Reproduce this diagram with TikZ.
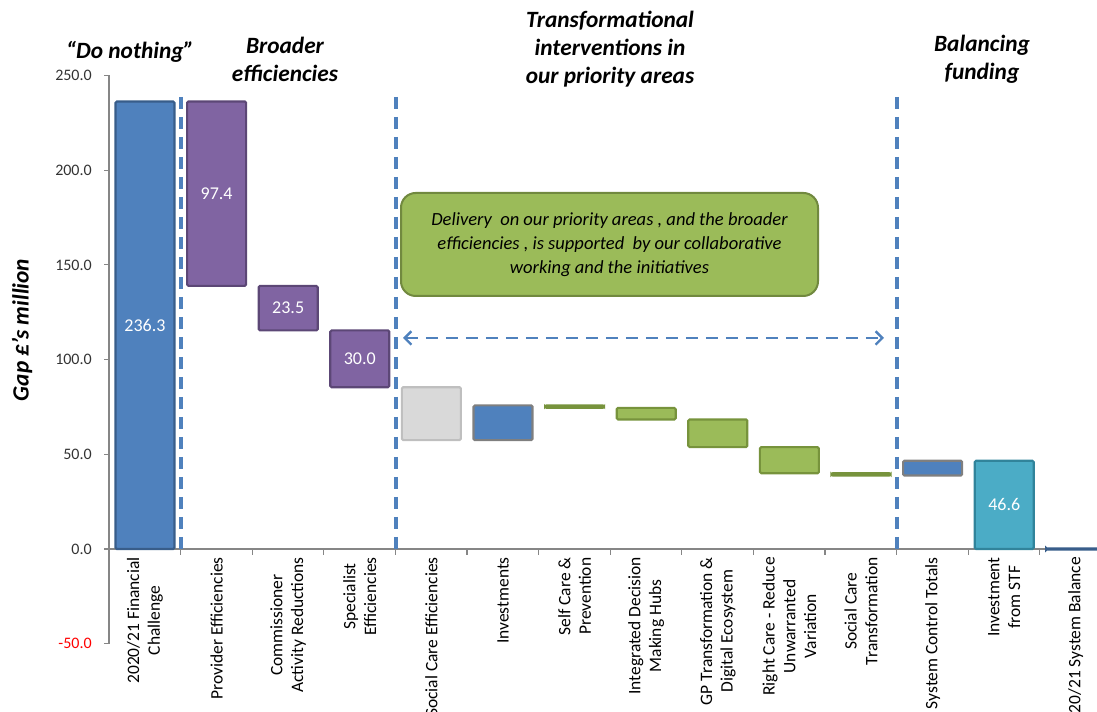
\documentclass[tikz,border=0pt]{standalone}
\usepackage{fontspec}
\setmainfont{Carlito}
\usetikzlibrary{arrows.meta}

\definecolor{barblue}{HTML}{4F81BD}
\definecolor{barblueline}{HTML}{385D8A}
\definecolor{barpurple}{HTML}{8064A2}
\definecolor{barpurpleline}{HTML}{5C4776}
\definecolor{bargrey}{HTML}{D9D9D9}
\definecolor{bargreyline}{HTML}{BFBFBF}
\definecolor{invline}{HTML}{7F7F7F}
\definecolor{bargreen}{HTML}{9BBB59}
\definecolor{bargreenline}{HTML}{77933C}
\definecolor{barteal}{HTML}{4BACC6}
\definecolor{bartealline}{HTML}{31849B}
\definecolor{axisgrey}{HTML}{868686}
\definecolor{boxline}{HTML}{71893F}

\begin{document}
\begin{tikzpicture}[x=0.75pt,y=0.75pt,
    bar/.style={line width=1.6pt,rounded corners=1pt},
    bluebar/.style={bar,fill=barblue,draw=barblueline},
    purplebar/.style={bar,fill=barpurple,draw=barpurpleline},
    greybar/.style={bar,fill=bargrey,draw=bargreyline},
    invbar/.style={bar,fill=barblue,draw=invline},
    greenbar/.style={bar,fill=bargreen,draw=bargreenline},
    thinbar/.style={bar,fill=bargreenline,draw=bargreenline},
    tealbar/.style={bar,fill=barteal,draw=bartealline},
    axisline/.style={draw=axisgrey,line width=0.8pt},
    divider/.style={draw=barblue,line width=2.4pt,dash pattern=on 9pt off 6pt},
    spanarrow/.style={draw=barblue,line width=1.8pt,dash pattern=on 9pt off 6pt,
        {Straight Barb[length=5pt,width=10pt]}-{Straight Barb[length=5pt,width=10pt]}},
    ticklabel/.style={anchor=east,inner sep=0pt,text=black!80,font=\fontsize{12}{14}\selectfont},
    vallabel/.style={text=white,font=\fontsize{13.5}{15}\selectfont},
    catlabel/.style={rotate=90,anchor=east,align=center,inner sep=0pt,font=\fontsize{13.1}{15.5}\selectfont},
    header/.style={align=center,font=\fontsize{17.5}{21}\selectfont\bfseries\itshape}]

    \useasboundingbox (0,0) rectangle (1097,712);

    % axes
    \draw[axisline] (109,163) -- (1097,163);
    \foreach \k in {0,...,13}
        \draw[axisline] ({109+71.6*\k},163) -- ++(0,-6);

    \begin{scope}[shift={(0,163)},yscale=1.894]
        \draw[axisline] (109,250) -- (109,-50);
        \foreach \v in {-50,0,50,...,250}
            \draw[axisline] (104,\v) -- (109,\v);
        \foreach \v in {0,50,...,250}
            \node[ticklabel] (t\v) at (92,\v) {\v.0};
        \node[ticklabel,text=red] (tm50) at (92,-50) {-50.0};

        % bars
        \draw[bluebar]   (115.5,0)    rectangle (174.5,236.3);
        \draw[purplebar] (187.1,138.9) rectangle (246.1,236.3);
        \draw[purplebar] (258.7,115.4) rectangle (317.7,138.9);
        \draw[purplebar] (330.3,85.4)  rectangle (389.3,115.4);
        \draw[greybar]   (401.9,57.5)  rectangle (460.9,85.4);
        \draw[invbar]    (473.5,57.5)  rectangle (532.5,75.8);
        \draw[thinbar]   (545.1,74.5)  rectangle (604.1,75.8);
        \draw[greenbar]  (616.7,68.4)  rectangle (675.7,74.5);
        \draw[greenbar]  (688.3,53.8)  rectangle (747.3,68.4);
        \draw[greenbar]  (759.9,40.0)  rectangle (818.9,53.8);
        \draw[thinbar]   (831.5,38.8)  rectangle (890.5,40.0);
        \draw[invbar]    (903.1,38.8)  rectangle (962.1,46.6);
        \draw[tealbar]   (974.7,0)     rectangle (1033.7,46.6);
        \draw[bar,fill=barblueline,draw=barblueline] (1046.3,-0.3) rectangle (1105.3,0.3);

        \node[vallabel] (v1) at (145,118.15) {236.3};
        \node[vallabel] (v2) at (216.6,187.6) {97.4};
        \node[vallabel] (v3) at (288.2,127.15) {23.5};
        \node[vallabel] (v4) at (359.8,100.4) {30.0};
        \node[vallabel] (v13) at (1004.2,23.3) {46.6};
    \end{scope}

    % section dividers
    \draw[divider] (181,615) -- (181,163);
    \draw[divider] (396,615) -- (396,163);
    \draw[divider] (897,615) -- (897,163);

    \coordinate (arrL) at (403,374);
    \coordinate (arrR) at (884,374);
    \draw[spanarrow] (arrL) -- (arrR);

    \node[draw=boxline,line width=1.5pt,fill=bargreen,rounded corners=11pt,
        minimum width=312.75pt,minimum height=77.25pt,align=center,
        font=\fontsize{13.9}{17.8}\selectfont\itshape] (note) at (609.5,467.5)
        {Delivery\ \ on our priority areas , and the broader\\
         efficiencies , is supported\ \ by our collaborative\\
         working and the initiatives};

    % headings
    \node[header] (h1) at (130,660) {“Do nothing”};
    \node[header] (h2) at (285,653) {Broader\\efficiencies};
    \node[header] (h3) at (610,663) {Transformational\\interventions in\\our priority areas};
    \node[header] (h4) at (982,653) {Balancing\\funding};
    \node[header,rotate=90] (ytitle) at (22,382) {Gap £’s million};

    % category labels
    \node[catlabel] (c0) at (145,155) {2020/21 Financial\\Challenge};
    \node[catlabel] (c1) at (216.6,155) {Provider Efficiencies};
    \node[catlabel] (c2) at (288.2,155) {Commissioner\\Activity Reductions};
    \node[catlabel] (c3) at (359.8,155) {Specialist\\Efficiencies};
    \node[catlabel] (c4) at (431.4,155) {Social Care Efficiencies};
    \node[catlabel] (c5) at (503,155) {Investments};
    \node[catlabel] (c6) at (574.6,155) {Self Care \&\\Prevention};
    \node[catlabel] (c7) at (646.2,155) {Integrated Decision\\Making Hubs};
    \node[catlabel] (c8) at (717.8,155) {GP Transformation \&\\Digital Ecosystem};
    \node[catlabel] (c9) at (789.4,155) {Right Care - Reduce\\Unwarranted\\Variation};
    \node[catlabel] (c10) at (861,155) {Social Care\\Transformation};
    \node[catlabel] (c11) at (932.6,155) {System Control Totals};
    \node[catlabel] (c12) at (1004.2,155) {Investment\\from STF};
    \node[catlabel] (c13) at (1075.8,155) {2020/21 System Balance};

\end{tikzpicture}
\end{document}
